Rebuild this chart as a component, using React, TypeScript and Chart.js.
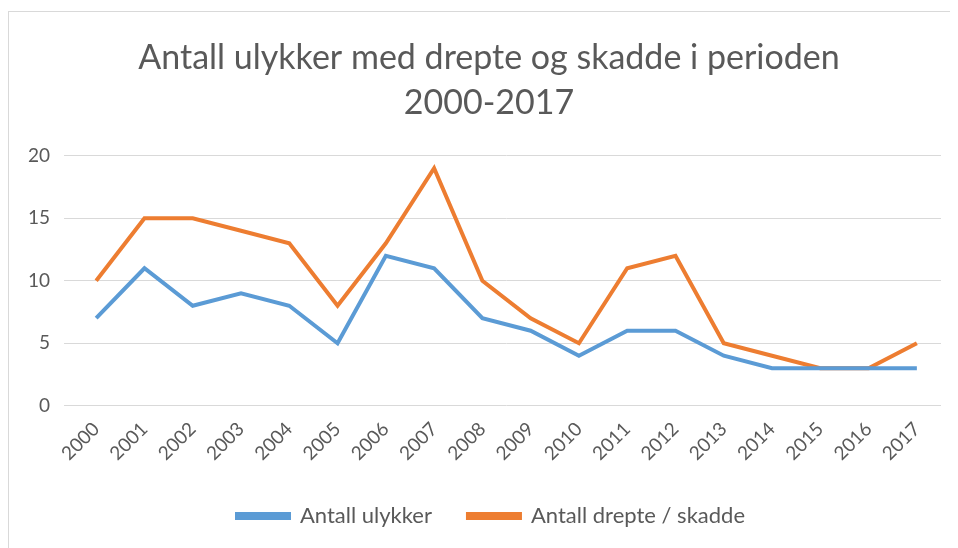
import React, { useEffect, useRef } from "react";
import { Chart, registerables } from "chart.js";

Chart.register(...registerables);

const years = ["2000","2001","2002","2003","2004","2005","2006","2007","2008","2009","2010","2011","2012","2013","2014","2015","2016","2017"];
const ulykker = [7, 11, 8, 9, 8, 5, 12, 11, 7, 6, 4, 6, 6, 4, 3, 3, 3, 3];
const drepteSkadde = [10, 15, 15, 14, 13, 8, 13, 19, 10, 7, 5, 11, 12, 5, 4, 3, 3, 5];
const titleLines = ["Antall ulykker med drepte og skadde i perioden", "2000-2017"];
const FONT = "Lato, 'Open Sans', sans-serif";
const GREY = "#595959";

const centerBlocks = {
  id: "centerBlocks",
  afterLayout(chart: any) {
    const w = chart.width;
    if (chart.titleBlock) { chart.titleBlock.left = 0; chart.titleBlock.right = w + 2; }
    if (chart.legend) { chart.legend.left = 0; chart.legend.right = w + 6; }
  },
};

export default function App() {
  const ref = useRef<HTMLCanvasElement>(null);
  useEffect(() => {
    if (!ref.current) return;
    const chart = new Chart(ref.current, {
      type: "line",
      data: {
        labels: years,
        datasets: [
          { label: "Antall ulykker", data: ulykker, borderColor: "#5b9bd5", backgroundColor: "#5b9bd5", borderWidth: 4, pointRadius: 0, tension: 0 },
          { label: "Antall drepte / skadde", data: drepteSkadde, borderColor: "#ed7d31", backgroundColor: "#ed7d31", borderWidth: 4, pointRadius: 0, tension: 0 },
        ],
      },
      options: {
        responsive: false,
        animation: false,
        layout: { padding: { left: 5, right: 26, top: 16, bottom: 18 } },
        plugins: {
          title: {
            display: true,
            text: titleLines,
            color: GREY,
            font: { family: FONT, size: 34, weight: "normal", lineHeight: 1.32 },
            padding: { top: 8, bottom: 30 },
          },
          legend: {
            position: "bottom",
            labels: {
              color: GREY,
              font: { family: FONT, size: 22 },
              boxWidth: 52,
              boxHeight: 4,
              padding: 36,
            },
          },
          tooltip: { enabled: false },
        },
        scales: {
          x: {
            offset: true,
            grid: { display: false },
            border: { display: false },
            ticks: { color: GREY, font: { family: FONT, size: 19 }, maxRotation: 45, minRotation: 45, padding: 4 },
          },
          y: {
            min: 0,
            max: 20,
            grid: { color: "#d9d9d9", lineWidth: 1 },
            border: { display: false },
            ticks: { color: GREY, font: { family: FONT, size: 19 }, stepSize: 5, padding: 14 },
          },
        },
      },
      plugins: [centerBlocks],
    });
    return () => chart.destroy();
  }, []);
  return (
    <div style={{ marginTop: 3, width: 960, height: 545, border: "1px solid #d9d9d9", boxSizing: "border-box", overflow: "hidden" }}>
      <canvas ref={ref} width={958} height={543} style={{ display: "block" }} />
    </div>
  );
}
